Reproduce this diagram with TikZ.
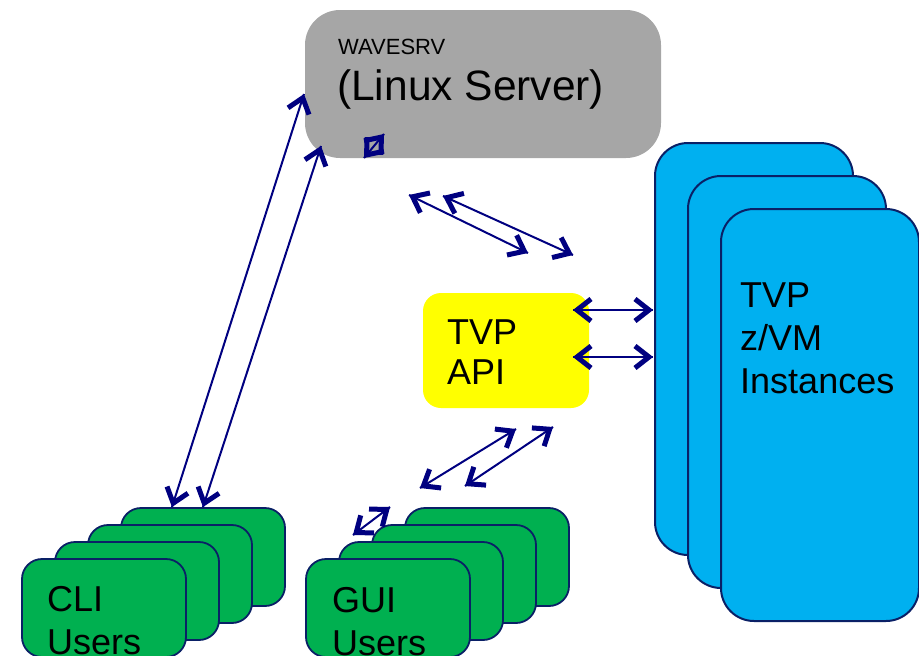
\documentclass[tikz,border=0pt]{standalone}
\usepackage{fontspec}
\setmainfont{Liberation Sans}
\usetikzlibrary{decorations.markings}

\definecolor{srvgray}{HTML}{A6A6A6}
\definecolor{apiyellow}{HTML}{FFFF00}
\definecolor{vmcyan}{HTML}{00B0F0}
\definecolor{usergreen}{HTML}{00B050}
\definecolor{linknavy}{HTML}{000080}
\definecolor{edgenavy}{HTML}{0A2066}

\tikzset{
    box/.style={rectangle, anchor=north west, inner sep=0pt, outer sep=0pt},
    vmbox/.style={box, fill=vmcyan, draw=edgenavy, line width=2pt,
        rounded corners=33pt, minimum width=198pt, minimum height=412pt},
    userbox/.style={box, fill=usergreen, draw=edgenavy, line width=1.8pt,
        rounded corners=20pt, minimum width=164pt, minimum height=98pt},
    boxtext/.style={anchor=base west, inner sep=0pt, align=left,
        font=\fontsize{36}{43}\selectfont},
    % offene Pfeilspitzen an beiden Enden
    link/.style={draw=linknavy, line width=2pt, postaction={decorate},
        decoration={markings,
            mark=at position 0 with {\draw[line width=5pt, line join=miter]
                (18pt,-11pt) -- (4pt,0pt) -- (18pt,11pt);},
            mark=at position 1 with {\draw[line width=5pt, line join=miter]
                (-18pt,-11pt) -- (-4pt,0pt) -- (-18pt,11pt);}}}
}

\begin{document}
\begin{tikzpicture}[x=1pt, y=-1pt]

\useasboundingbox (0,0) rectangle (919,656);
\clip (0,0) rectangle (919,656);

% --- Server ---
\node[box, fill=srvgray, rounded corners=35pt,
    minimum width=356pt, minimum height=148pt] (srv) at (305,10) {};
\node[boxtext, font=\fontsize{22}{26}\selectfont] (srvname) at (338,54) {WAVESRV};
\node[boxtext, font=\fontsize{42.5}{50}\selectfont] (srvos) at (337,100) {(Linux Server)};

% --- z/VM Instanzen ---
\foreach \i in {2,1,0}
    \node[vmbox] (vm\i) at ({721-33*\i},{209-33*\i}) {};
% Basislinie = letzte Zeile
\node[boxtext] (vmtext) at (740,393) {TVP\\z/VM\\Instances};

% --- API ---
\node[box, fill=apiyellow, rounded corners=18pt,
    minimum width=166pt, minimum height=115pt] (api) at (423,293) {};
\node[boxtext, font=\fontsize{36}{40}\selectfont] (apitext) at (447,384) {TVP\\API};

% --- Benutzer ---
\foreach \i in {3,2,1,0} {
    \node[userbox] (cli\i) at ({22+33*\i},{559-17*\i}) {};
}
\node[boxtext] (clitext) at (47,654) {CLI\\Users};

\foreach \i in {3,2,1,0} {
    \node[userbox] (gui\i) at ({306+33*\i},{559-17*\i}) {};
}
\node[boxtext] (guitext) at (332,655) {GUI\\Users};

% --- Verbindungen ---
\coordinate (cs1a) at (172,507);
\coordinate (cs1b) at (304,94);
\coordinate (cs2a) at (203,507);
\coordinate (cs2b) at (321,146);
\draw[link] (cs1a) -- (cs1b);
\draw[link] (cs2a) -- (cs2b);

\coordinate (sv1a) at (409,195);
\coordinate (sv1b) at (528,253);
\coordinate (sv2a) at (443,196);
\coordinate (sv2b) at (573,255);
\draw[link] (sv1a) -- (sv1b);
\draw[link] (sv2a) -- (sv2b);

\coordinate (av1a) at (573,310);
\coordinate (av1b) at (653,310);
\coordinate (av2a) at (573,357);
\coordinate (av2b) at (653,357);
\draw[link] (av1a) -- (av1b);
\draw[link] (av2a) -- (av2b);

\coordinate (ga1a) at (420,488);
\coordinate (ga1b) at (516,429);
\coordinate (ga2a) at (465,486);
\coordinate (ga2b) at (553,427);
\draw[link] (ga1a) -- (ga1b);
\draw[link] (ga2a) -- (ga2b);

% kurze Pfeile
\coordinate (gxa) at (353,535);
\coordinate (gxb) at (390,507);
\draw[link] (gxa) -- (gxb);
\coordinate (sxa) at (364,158);
\coordinate (sxb) at (384,134);
\draw[link] (sxa) -- (sxb);

\end{tikzpicture}
\end{document}
